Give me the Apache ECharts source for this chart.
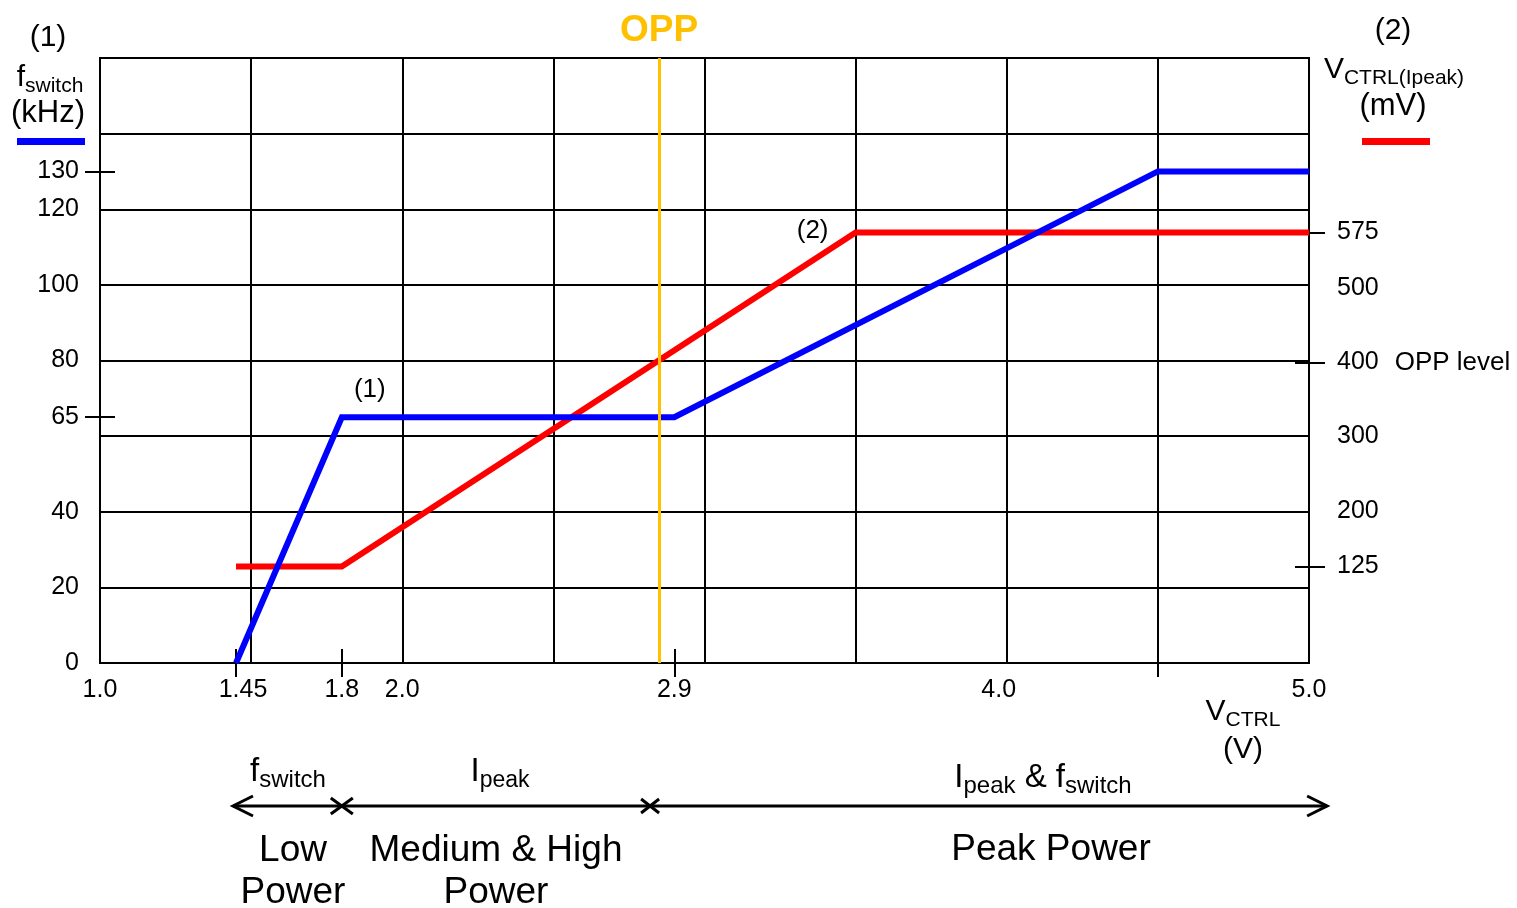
<!DOCTYPE html>
<html>
<head>
<meta charset="utf-8">
<script src="https://cdn.jsdelivr.net/npm/echarts@6/dist/echarts.min.js"></script>
<style>
html, body { margin: 0; padding: 0; background: #fff; }
#chart { width: 1517px; height: 908px; }
</style>
</head>
<body>
<div id="chart"></div>
<script>
var FONT = '"Liberation Sans", Arial, sans-serif';

// x axis: V_CTRL (V)
var xTickValues = [1.0, 1.45, 1.8, 2.0, 2.9, 4.0, 5.0];
var xTickLabels = ['1.0', '1.45', '1.8', '2.0', '2.9', '4.0', '5.0'];
var xTickMarks = [1.45, 1.8, 2.9, 4.5];

// left axis: f_switch (kHz)
var fswLabels = [0, 20, 40, 65, 80, 100, 120, 130];
var fswTicks = [65, 130];

// right axis: V_CTRL(Ipeak) (mV)
var ipkLabels = [125, 200, 300, 400, 500, 575];
var ipkSuffix = ['', '', '', 'OPP level', '', ''];
var ipkTicks = [125, 400, 575];

// curves
var fswitchData = [[1.45, 0], [1.8, 65], [2.9, 65], [4.5, 130], [5.0, 130]];
var ipeakData = [[1.45, 125], [1.8, 125], [3.5, 575], [5.0, 575]];
var oppVctrl = 2.845;

// operating regions drawn under the axis
var regionBounds = [1.44, 1.8, 2.82, 5.06];

var chart = echarts.init(document.getElementById('chart'));

var blackLine = { color: '#000', width: 2 };

// labels in the source sit a little off their ticks
function xLabel(v) {
    for (var i = 0; i < xTickValues.length; i++) {
        if (Math.abs(xTickValues[i] - v) < 1e-6) {
            var t = xTickLabels[i];
            if (t === '1.45') return '{r|' + t + '}';
            if (t === '4.0') return '{l|' + t + '}';
            return '{n|' + t + '}';
        }
    }
    return '';
}

var option = {
    animation: false,
    backgroundColor: '#fff',
    grid: {
        left: 100, right: 208, top: 58, bottom: 245,
        show: true, borderColor: '#000', borderWidth: 2
    },
    legend: [{
        data: ['fswitch'], left: 17, top: 138, padding: 0, icon: 'rect',
        itemWidth: 68, itemHeight: 7, formatter: function () { return ''; },
        selectedMode: false
    }, {
        data: ['ipeak'], left: 1362, top: 138, padding: 0, icon: 'rect',
        itemWidth: 68, itemHeight: 7, formatter: function () { return ''; },
        selectedMode: false
    }],
    xAxis: [{
        type: 'value', min: 1, max: 5, interval: 0.5,
        axisLine: { show: false }, axisTick: { show: false }, axisLabel: { show: false },
        splitLine: { show: true, lineStyle: blackLine }
    }, {
        type: 'value', min: 1, max: 5, position: 'bottom', offset: -14,
        axisLine: { show: false }, axisLabel: { show: false }, splitLine: { show: false },
        axisTick: { show: true, customValues: xTickMarks, length: 28, lineStyle: blackLine }
    }, {
        type: 'value', min: 1, max: 5, position: 'bottom',
        axisLine: { show: false }, axisTick: { show: false }, splitLine: { show: false },
        axisLabel: {
            customValues: xTickValues, formatter: xLabel,
            fontSize: 25, color: '#000', fontFamily: FONT, margin: 15,
            rich: {
                n: { fontSize: 25, fontFamily: FONT, color: '#000' },
                r: { fontSize: 25, fontFamily: FONT, color: '#000', padding: [0, 0, 0, 14] },
                l: { fontSize: 25, fontFamily: FONT, color: '#000', padding: [0, 16, 0, 0] }
            }
        }
    }],
    yAxis: [{
        type: 'value', min: 0, max: 160, interval: 20, position: 'left',
        axisLine: { show: false }, axisTick: { show: false }, axisLabel: { show: false },
        splitLine: { show: true, lineStyle: blackLine }
    }, {
        type: 'value', min: 0, max: 160, position: 'left', offset: -15,
        axisLine: { show: false }, axisLabel: { show: false }, splitLine: { show: false },
        axisTick: { show: true, customValues: fswTicks, length: 30, lineStyle: blackLine }
    }, {
        type: 'value', min: 0, max: 160, position: 'left',
        axisLine: { show: false }, axisTick: { show: false }, splitLine: { show: false },
        axisLabel: {
            customValues: fswLabels, fontSize: 25, color: '#000', fontFamily: FONT, margin: 21
        }
    }, {
        type: 'value', min: -5, max: 810, position: 'right',
        axisLine: { show: false }, axisTick: { show: false }, splitLine: { show: false },
        axisLabel: {
            customValues: ipkLabels, fontSize: 25, color: '#000', fontFamily: FONT, margin: 28,
            formatter: function (v) {
                var i = ipkLabels.indexOf(v);
                var sfx = i >= 0 ? ipkSuffix[i] : '';
                return '{n|' + v + '}' + (sfx ? '{o|' + sfx + '}' : '');
            },
            rich: {
                n: { fontSize: 25, fontFamily: FONT, color: '#000' },
                o: { fontSize: 26, fontFamily: FONT, color: '#000', padding: [0, 0, 0, 16] }
            }
        }
    }, {
        type: 'value', min: -5, max: 810, position: 'right', offset: -14,
        axisLine: { show: false }, axisLabel: { show: false }, splitLine: { show: false },
        axisTick: { show: true, customValues: ipkTicks, length: 30, lineStyle: blackLine }
    }],
    series: [{
        name: 'fswitch', type: 'line', xAxisIndex: 0, yAxisIndex: 0,
        data: fswitchData, symbol: 'none', silent: true, z: 4,
        lineStyle: { color: '#0000FF', width: 6, join: 'miter' },
        itemStyle: { color: '#0000FF' },
        markLine: {
            silent: true, symbol: 'none',
            lineStyle: { color: '#FFC000', width: 3, type: 'solid' },
            label: {
                show: true, position: 'end', formatter: 'OPP', distance: 9,
                color: '#FFC000', fontSize: 37, fontWeight: 'bold', fontFamily: FONT
            },
            data: [{ xAxis: oppVctrl }]
        },
        markPoint: {
            silent: true, symbol: 'circle', symbolSize: 1,
            itemStyle: { color: 'rgba(0,0,0,0)' },
            label: {
                show: true, formatter: '(1)', offset: [28, -27],
                color: '#000', fontSize: 26, fontFamily: FONT
            },
            data: [{ coord: fswitchData[1] }]
        }
    }, {
        name: 'ipeak', type: 'line', xAxisIndex: 0, yAxisIndex: 3,
        data: ipeakData, symbol: 'none', silent: true, z: 3,
        lineStyle: { color: '#FF0000', width: 6, join: 'miter' },
        itemStyle: { color: '#FF0000' },
        markPoint: {
            silent: true, symbol: 'circle', symbolSize: 1,
            itemStyle: { color: 'rgba(0,0,0,0)' },
            label: {
                show: true, formatter: '(2)', offset: [-43, -2],
                color: '#000', fontSize: 26, fontFamily: FONT
            },
            data: [{ coord: ipeakData[2] }]
        }
    }]
};

chart.setOption(option);

// text helpers
function plain(x, y, text, size, extra) {
    var st = {
        text: text, fontSize: size, fontFamily: FONT, fill: '#000',
        align: 'center', verticalAlign: 'middle'
    };
    if (extra) for (var k in extra) st[k] = extra[k];
    return { type: 'text', x: x, y: y, silent: true, style: st };
}
function subText(x, y, text, big, small) {
    return {
        type: 'text', x: x, y: y, silent: true,
        style: {
            text: text, fill: '#000', align: 'center', verticalAlign: 'middle',
            fontFamily: FONT, fontSize: big,
            rich: {
                b: { fontSize: big, fontFamily: FONT, lineHeight: big + 8, verticalAlign: 'middle', fill: '#000' },
                s: { fontSize: small, fontFamily: FONT, lineHeight: small, verticalAlign: 'bottom', fill: '#000' }
            }
        }
    };
}
function seg(points, w) {
    return {
        type: 'polyline', silent: true, shape: { points: points },
        style: { stroke: '#000', lineWidth: w, fill: null }
    };
}

var ay = 806;
var px = regionBounds.map(function (v) { return chart.convertToPixel({ xAxisIndex: 0 }, v); });

var graphics = [
    // left axis title
    plain(48, 38, '(1)', 30),
    subText(50, 78, '{b|f}{s|switch}', 30, 21),
    plain(48, 113, '(kHz)', 31),
    // right axis title
    plain(1393, 31, '(2)', 30),
    subText(1394, 70, '{b|V}{s|CTRL(Ipeak)}', 30, 21),
    plain(1393, 106, '(mV)', 31),
    // x axis title
    subText(1243, 712, '{b|V}{s|CTRL}', 30, 21),
    plain(1243, 750, '(V)', 30),
    // region arrow line
    seg([[px[0], ay], [px[3], ay]], 3),
    seg([[px[0] + 20, ay - 10], [px[0], ay], [px[0] + 20, ay + 10]], 3),
    seg([[px[3] - 20, ay - 10], [px[3], ay], [px[3] - 20, ay + 10]], 3),
    seg([[px[1] - 11, ay - 8], [px[1] + 11, ay + 8]], 3),
    seg([[px[1] - 11, ay + 8], [px[1] + 11, ay - 8]], 3),
    seg([[px[2] - 9, ay - 7], [px[2] + 9, ay + 7]], 3),
    seg([[px[2] - 9, ay + 7], [px[2] + 9, ay - 7]], 3),
    // region labels
    subText(288, 772, '{b|f}{s|switch}', 33, 24),
    subText(500, 772, '{b|I}{s|peak}', 33, 23),
    subText(1043, 778, '{b|I}{s|peak}{b| & f}{s|switch}', 33, 24),
    plain(293, 872, 'Low\nPower', 37, { lineHeight: 42 }),
    plain(496, 872, 'Medium & High\nPower', 37, { lineHeight: 42 }),
    plain(1051, 850, 'Peak Power', 37)
];

chart.setOption({ graphic: graphics });
</script>
</body>
</html>
